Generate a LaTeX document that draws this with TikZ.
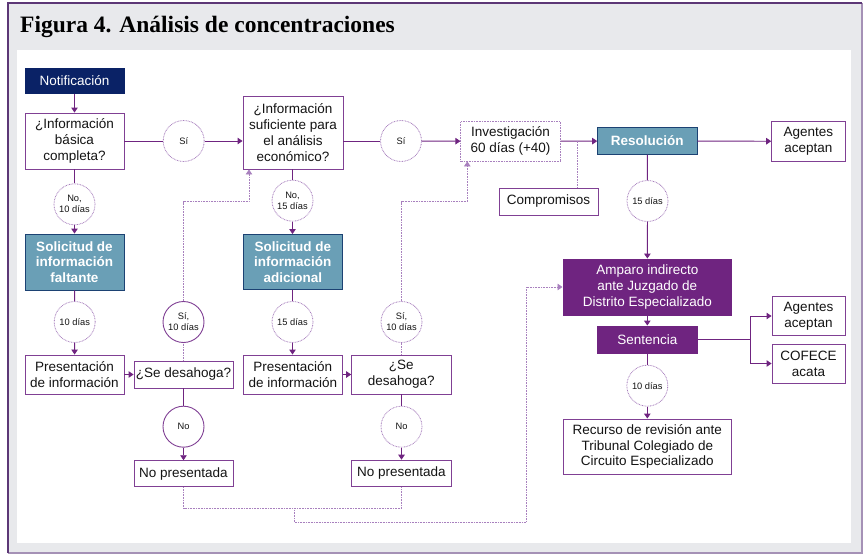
\documentclass[tikz,border=0pt]{standalone}
\usepackage{fontspec}
\setmainfont{Liberation Sans}
\newfontfamily\titlefont{Liberation Serif}
\usetikzlibrary{arrows.meta,calc}
\definecolor{cnavy}{RGB}{10,34,102}
\definecolor{cteal}{RGB}{106,159,182}
\definecolor{ctealb}{RGB}{28,66,115}
\definecolor{cpurple}{RGB}{111,36,128}
\definecolor{bpurple}{RGB}{128,64,148}
\definecolor{lpurple}{RGB}{168,128,190}
\definecolor{gbg}{RGB}{232,233,236}
\definecolor{txt}{RGB}{20,20,20}
\definecolor{frameA}{RGB}{92,55,118}
\definecolor{frameB}{RGB}{165,145,182}
\tikzset{
  box/.style={draw=bpurple, line width=0.9pt, fill=white, align=center, text=txt, inner sep=0pt,
    font=\fontsize{13.5}{15.8}\selectfont},
  dbox/.style={box, draw=lpurple, dash pattern=on 0.8pt off 0.8pt},
  tealbox/.style={box, fill=cteal, draw=ctealb, text=white, font=\fontsize{13.5}{15.8}\selectfont\bfseries},
  purbox/.style={box, fill=cpurple, draw=cpurple, text=white},
  circd/.style={circle, draw=lpurple, line width=0.8pt, dash pattern=on 0.8pt off 0.8pt, fill=white,
    minimum size=41pt, inner sep=0pt, align=center, text=txt, font=\fontsize{9.3}{11}\selectfont},
  circs/.style={circd, draw=bpurple, solid, line width=0.9pt},
  conn/.style={draw=cpurple, line width=0.9pt},
  arr/.style={conn, -{Triangle[length=5pt,width=6.5pt]}},
  dconn/.style={draw=lpurple, line width=0.8pt, dash pattern=on 0.8pt off 0.8pt},
  darr/.style={dconn, -{Triangle[length=5pt,width=6.5pt]}, color=lpurple},
}
\begin{document}
\begin{tikzpicture}[x=1pt,y=-1pt]
\useasboundingbox (0,0) rectangle (863,554);
% frame
\fill[gbg] (8,3) rectangle (862,553);
\fill[white] (17,50) rectangle (851,543);
\draw[frameB, line width=1.2pt] (862,3) -- (862,553) -- (8,553);
\draw[frameA, line width=1.5pt] (8,553) -- (8,3) -- (862,3);
\node[anchor=base west, inner sep=0pt, font=\titlefont\fontsize{23.5}{26}\selectfont\bfseries, text=black] (title) at (20,32) {Figura 4. Análisis de concentraciones};

% top row
\node[box, fill=cnavy, draw=cnavy, text=white, minimum width=99pt, minimum height=25.5pt] (notif) at (74.5,80.8) {Notificación};
\node[box, minimum width=99pt, minimum height=56pt] (q1) at (74.5,141) {¿Información\\básica\\completa?};
\node[circd] (si1) at (183.7,141) {Sí};
\node[box, minimum width=100pt, minimum height=73pt] (q2) at (293,132.5) {¿Información\\suficiente para\\el análisis\\económico?};
\node[circd] (si2) at (401,141) {Sí};
\node[dbox, minimum width=99.3pt, minimum height=39.3pt] (inv) at (510.5,141.3) {Investigación\\60 días (+40)};
\node[box, minimum width=99pt, minimum height=27pt] (comp) at (548.5,201.5) {Compromisos};
\node[tealbox, minimum width=99.3pt, minimum height=26.3pt] (res) at (647.3,141) {Resolución};
\node[box, minimum width=73.3pt, minimum height=39.3pt] (ag1) at (808.3,141.3) {Agentes\\aceptan};
\node[circd] (c15r) at (647.5,201) {15 días};
\node[purbox, minimum width=168.7pt, minimum height=56pt] (amp) at (647.3,287) {Amparo indirecto\\ante Juzgado de\\Distrito Especializado};
\node[purbox, minimum width=99.3pt, minimum height=27pt] (sent) at (647.3,339.5) {Sentencia};
\node[box, minimum width=73pt, minimum height=39.7pt] (ag2) at (808.5,316) {Agentes\\aceptan};
\node[box, minimum width=73pt, minimum height=39pt] (cof) at (808.5,363.5) {COFECE\\acata};
\node[circd] (c10r) at (647.3,385.7) {10 días};
\node[box, minimum width=168.7pt, minimum height=55pt] (rec) at (647.3,446.5) {Recurso de revisión ante\\Tribunal Colegiado de\\Circuito Especializado};

% left column
\node[circd] (cno1) at (74.5,204.3) {No,\\10 días};
\node[tealbox, minimum width=99pt, minimum height=56pt] (sol1) at (74.5,262) {Solicitud de\\información\\faltante};
\node[circd] (c10a) at (74.7,322) {10 días};
\node[box, minimum width=99pt, minimum height=39pt] (pres1) at (74.5,374.5) {Presentación\\de información};
\node[box, minimum width=99pt, minimum height=27pt] (des1) at (183.5,374.5) {¿Se desahoga?};
\node[circs] (csi1) at (183.5,322) {Sí,\\10 días};
\node[circs] (cno2) at (183.5,426.7) {No};
\node[box, minimum width=99pt, minimum height=26pt] (np1) at (183.5,473.7) {No presentada};

% middle column
\node[circd] (cno3) at (292.5,200.7) {No,\\15 días};
\node[tealbox, minimum width=99pt, minimum height=55pt] (sol2) at (292.8,262) {Solicitud de\\información\\adicional};
\node[circd] (c15a) at (292.5,322) {15 días};
\node[box, minimum width=99pt, minimum height=39pt] (pres2) at (292.8,374.5) {Presentación\\de información};
\node[box, minimum width=99.3pt, minimum height=39pt] (des2) at (401.3,374.5) {¿Se\\desahoga?};
\node[circd] (csi2) at (401.5,322) {Sí,\\10 días};
\node[circd] (cno4) at (401.5,426.7) {No};
\node[box, minimum width=99.3pt, minimum height=26.7pt] (np2) at (401.3,473.5) {No presentada};

% coordinates
\coordinate (cj) at (577.7,141);
\coordinate (sp) at (750.7,339.5);
\coordinate (k1) at (183.5,201.7);
\coordinate (k2) at (249,201.7);
\coordinate (k3) at (401.5,201.7);
\coordinate (k4) at (467.3,201.7);
\coordinate (m1) at (294.3,508.3);
\coordinate (m2) at (294.3,522.3);
\coordinate (m3) at (526,522.3);
\coordinate (m4) at (526,287);

% connectors
\draw[arr] (notif) -- (q1);
\draw[conn] (q1.east |- si1) -- (si1);
\draw[arr] (si1) -- (si1 -| q2.west);
\draw[conn] (si2 -| q2.east) -- (si2);
\draw[arr] (si2) -- (inv);
\draw[arr] (inv) -- (res);
\draw[dconn] (comp.north -| cj) -- (cj);
\draw[arr] (res) -- (ag1);
\draw[conn] (res) -- (c15r);
\draw[arr] (c15r) -- (amp);
\draw[arr] (amp) -- (sent);
\draw[conn] (sent.east) -- (sp);
\draw[conn] (sp |- ag2.west) -- (sp |- cof.west);
\draw[arr] (sp |- ag2.west) -- (ag2.west);
\draw[arr] (sp |- cof.west) -- (cof.west);
\draw[conn] (sent) -- (c10r);
\draw[arr] (c10r) -- (rec);

\draw[conn] (q1) -- (cno1);
\draw[arr] (cno1) -- (sol1);
\draw[conn] (sol1) -- (c10a);
\draw[arr] (c10a) -- (pres1);
\draw[arr] (pres1) -- (des1);
\draw[dconn] (des1) -- (csi1);
\draw[darr] (csi1.north) -- (k1) -- (k2) -- (k2 |- q2.south);
\draw[conn] (des1) -- (cno2);
\draw[arr] (cno2) -- (np1);

\draw[conn] (q2.south -| cno3) -- (cno3);
\draw[arr] (cno3) -- (cno3 |- sol2.north);
\draw[conn] (sol2.south -| c15a) -- (c15a);
\draw[arr] (c15a) -- (c15a |- pres2.north);
\draw[arr] (pres2) -- (des2);
\draw[dconn] (des2.north -| csi2) -- (csi2);
\draw[darr] (csi2.north) -- (k3) -- (k4) -- (k4 |- inv.south);
\draw[conn] (des2.south -| cno4) -- (cno4);
\draw[arr] (cno4) -- (cno4 |- np2.north);

\draw[dconn] (np1.south) -- (np1.south |- m1) -- (m1);
\draw[dconn] (np2.south -| cno4) -- (cno4 |- m1) -- (m1);
\draw[darr] (m1) -- (m2) -- (m3) -- (m4) -- (amp.west);
\end{tikzpicture}
\end{document}
